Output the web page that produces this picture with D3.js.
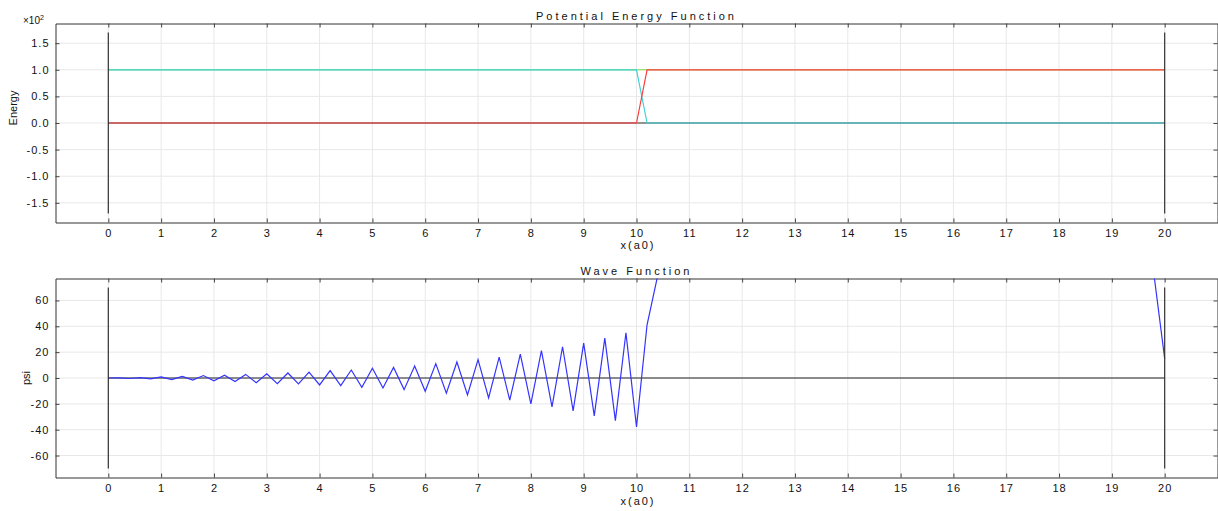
<!DOCTYPE html>
<html><head><meta charset="utf-8">
<script src="https://cdn.jsdelivr.net/npm/d3@7"></script>
<style>
body{margin:0;background:#fff}
svg text{font-family:"Liberation Sans",Arial,Helvetica,sans-serif;fill:#111}
</style>
</head><body>
<svg id="chart" width="1218" height="511"></svg>
<script>
// ---------- data ----------
const xTickValues = [0,1,2,3,4,5,6,7,8,9,10,11,12,13,14,15,16,17,18,19,20];
const energyTickValues = [-150,-100,-50,0,50,100,150];
const energyTickLabels = ["-1.5","-1.0","-0.5","0.0","0.5","1.0","1.5"];
const psiTickValues = [-60,-40,-20,0,20,40,60];

// potential energy function (red) and energy minus potential (cyan)
const potX = [0, 10, 10.2, 20];
const potV = [0, 0, 100, 100];
const kinV = [100, 100, 0, 0];
const levelEnergy = 100;       // green energy level (mostly hidden)
const wallTopEnergy = 170;     // wall line half-height, top panel
const wallTopPsi = 70;         // wall line half-height, bottom panel
const walls = [0, 20];

// wave function samples, step 0.2 from 0 to 20
const psiStep = 0.2;
const psiValues = [
  0, 0.1, -0.4, 0.3, -0.7, 0.8, -1.3, 1.3, -1.6, 1.9,
  -2.1, 2.1, -2.8, 2.8, -3.6, 3.3, -4.4, 3.9, -4.6, 4.6,
  -5.4, 5.7, -5.9, 6.2, -7.2, 7.5, -7.7, 8.2, -9.0, 9.3,
  -10.3, 11.1, -11.8, 12.4, -13.1, 14.2, -15.4, 16.2, -17.2, 18.5,
  -20.1, 21.1, -22.4, 24.2, -25.5, 27.0, -29.3, 30.9, -33.0, 35.0,
  -37.8, 41.2, 79,
  130, 190, 260, 340, 430, 530, 640, 760, 880, 1000,
  1120, 1230, 1330, 1420, 1500, 1570, 1620, 1660, 1690, 1700,
  1700, 1690, 1660, 1620, 1570, 1500, 1420, 1330, 1230, 1120,
  1000, 880, 760, 640, 530, 430, 340, 260, 200, 160,
  130, 110, 100, 92, 86, 82,
  79, 15
];

// ---------- layout ----------
const svg = d3.select("#chart");
const left = 55.5, right = 1217.5;
const x = d3.scaleLinear().domain([-1, 21]).range([left, right]);

const panels = [
  {top: 23.5, bottom: 222.5, domain: [-187, 187], id: "top"},
  {top: 278.5, bottom: 477.5, domain: [-77, 77], id: "bot"}
];

function drawFrame(p, yTicks, yFmt) {
  const y = d3.scaleLinear().domain(p.domain).range([p.bottom, p.top]);
  const g = svg.append("g");
  // grid
  g.append("g").selectAll("line").data(xTickValues).join("line")
    .attr("x1", d => x(d)).attr("x2", d => x(d))
    .attr("y1", p.top).attr("y2", p.bottom)
    .attr("stroke", "#e8e8e8").attr("stroke-width", 1);
  g.append("g").selectAll("line").data(yTicks).join("line")
    .attr("x1", left).attr("x2", right)
    .attr("y1", d => y(d)).attr("y2", d => y(d))
    .attr("stroke", "#e8e8e8").attr("stroke-width", 1);
  // axes
  const ax = [
    {a: d3.axisBottom(x).tickValues(xTickValues).tickSizeInner(-4).tickSizeOuter(0).tickPadding(7), t: `translate(0,${p.bottom})`},
    {a: d3.axisTop(x).tickValues(xTickValues).tickSizeInner(-4).tickSizeOuter(0).tickFormat(""), t: `translate(0,${p.top})`},
    {a: d3.axisLeft(y).tickValues(yTicks).tickSizeInner(-4).tickSizeOuter(0).tickPadding(6).tickFormat(yFmt), t: `translate(${left},0)`},
    {a: d3.axisRight(y).tickValues(yTicks).tickSizeInner(-4).tickSizeOuter(0).tickFormat(""), t: `translate(${right},0)`}
  ];
  ax.forEach(o => {
    const ag = g.append("g").attr("transform", o.t).call(o.a);
    ag.select(".domain").attr("stroke", "#333");
    ag.selectAll(".tick line").attr("stroke", "#444");
    ag.selectAll("text").attr("font-size", 11).attr("fill", "#222")
      .attr("font-family", '"Liberation Sans",Arial,sans-serif')
      .style("letter-spacing", "1px");
  });
  // clip
  svg.append("clipPath").attr("id", "clip-" + p.id).append("rect")
    .attr("x", left).attr("y", p.top).attr("width", right - left).attr("height", p.bottom - p.top);
  return y;
}

// ---------- top panel ----------
const yE = drawFrame(panels[0], energyTickValues, d => energyTickLabels[energyTickValues.indexOf(d)]);
const gTop = svg.append("g").attr("clip-path", "url(#clip-top)");
const lineE = d3.line().x((d, i) => x(potX[i])).y(d => yE(d));
gTop.append("path").datum(potX.map(() => 0)).attr("d", lineE).attr("fill", "none").attr("stroke", "#333").attr("stroke-width", 1);
gTop.append("path").datum(potX.map(() => levelEnergy)).attr("d", lineE).attr("fill", "none").attr("stroke", "#7fdc3a").attr("stroke-width", 1);
gTop.append("path").datum(kinV).attr("d", lineE).attr("fill", "none").attr("stroke", "#3fd3d8").attr("stroke-width", 1.2);
gTop.append("path").datum(potV).attr("d", lineE).attr("fill", "none").attr("stroke", "#ff3c3c").attr("stroke-width", 1.2);
gTop.selectAll("line.wall").data(walls).join("line").attr("class", "wall")
  .attr("x1", d => x(d)).attr("x2", d => x(d))
  .attr("y1", yE(wallTopEnergy)).attr("y2", yE(-wallTopEnergy))
  .attr("stroke", "#333").attr("stroke-width", 1.2);

svg.append("text").attr("x", 636.5).attr("y", 19.5).attr("text-anchor", "middle")
  .attr("font-size", 11).style("letter-spacing", "3px").text("Potential Energy Function");
svg.append("text").attr("x", 638).attr("y", 248.5).attr("text-anchor", "middle")
  .attr("font-size", 11).style("letter-spacing", "2px").text("x(a0)");
const mult = svg.append("text").attr("x", 23).attr("y", 24).attr("font-size", 10).attr("fill", "#222");
mult.append("tspan").text("×10");
mult.append("tspan").attr("dy", -4).attr("font-size", 7).text("2");
svg.append("text").attr("transform", "translate(17,108) rotate(-90)").attr("text-anchor", "middle")
  .attr("font-size", 11).text("Energy");

// ---------- bottom panel ----------
const yP = drawFrame(panels[1], psiTickValues, d => d);
const gBot = svg.append("g").attr("clip-path", "url(#clip-bot)");
gBot.append("line").attr("x1", x(0)).attr("x2", x(20)).attr("y1", yP(0)).attr("y2", yP(0))
  .attr("stroke", "#222").attr("stroke-width", 1);
gBot.append("path").datum(psiValues)
  .attr("d", d3.line().x((d, i) => x(i * psiStep)).y(d => yP(d)))
  .attr("fill", "none").attr("stroke", "#3434ff").attr("stroke-width", 1.2);
gBot.selectAll("line.wall").data(walls).join("line").attr("class", "wall")
  .attr("x1", d => x(d)).attr("x2", d => x(d))
  .attr("y1", yP(wallTopPsi)).attr("y2", yP(-wallTopPsi))
  .attr("stroke", "#333").attr("stroke-width", 1.2);

svg.append("text").attr("x", 636.5).attr("y", 274.5).attr("text-anchor", "middle")
  .attr("font-size", 11).style("letter-spacing", "3px").text("Wave Function");
svg.append("text").attr("x", 638).attr("y", 504.5).attr("text-anchor", "middle")
  .attr("font-size", 11).style("letter-spacing", "2px").text("x(a0)");
svg.append("text").attr("transform", "translate(30,378) rotate(-90)").attr("text-anchor", "middle")
  .attr("font-size", 11).text("psi");
</script>
</body></html>
